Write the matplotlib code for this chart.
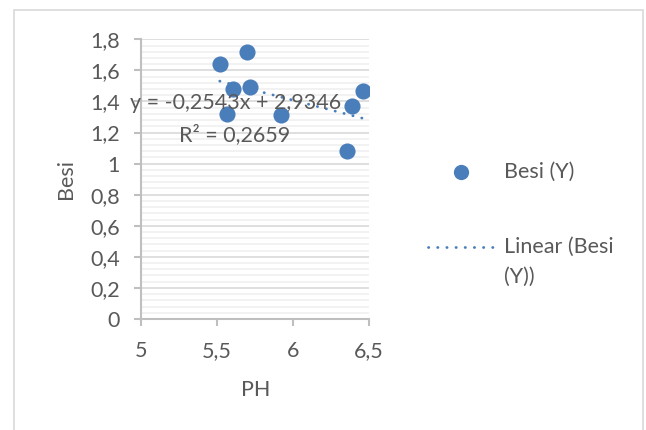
import matplotlib
matplotlib.use("Agg")
import matplotlib.pyplot as plt
import numpy as np
from matplotlib.lines import Line2D
from matplotlib.patches import Rectangle
from matplotlib.ticker import MultipleLocator, FuncFormatter

plt.rcParams['font.family'] = ['Lato', 'DejaVu Sans']

# data
ph = [5.52, 5.70, 5.61, 5.72, 5.57, 5.92, 6.36, 6.39, 6.46]
besi = [1.64, 1.72, 1.48, 1.49, 1.32, 1.31, 1.08, 1.37, 1.47]
slope, intercept = -0.2543, 2.9346
eq_text = "y = -0,2543x + 2,9346"
r2_text = "R² = 0,2659"
series_name = "Besi (Y)"
trend_name = "Linear (Besi\n(Y))"

blue = '#4a7ebb'
txt = '#595959'
fs = 15.5
dots = (0, (0.1, 3.2))
W, H = 646, 430

fig = plt.figure(figsize=(W / 100, H / 100), dpi=100)
ax = fig.add_axes([140.7 / W, 1 - 319 / H, 228 / W, 279.7 / H])

ax.scatter(ph, besi, s=135, color=blue, zorder=3, linewidths=0)
xs = np.array([min(ph), max(ph)])
ax.plot(xs, slope * xs + intercept, color=blue, lw=2,
        linestyle=dots, dash_capstyle='round', zorder=2)

ax.set_xlim(5, 6.5)
ax.set_ylim(0, 1.8)
ax.xaxis.set_major_locator(MultipleLocator(0.5))
ax.yaxis.set_major_locator(MultipleLocator(0.2))
ax.yaxis.set_minor_locator(MultipleLocator(0.04))
fmt = FuncFormatter(lambda v, p: ('%g' % round(v, 2)).replace('.', ','))
ax.xaxis.set_major_formatter(fmt)
ax.yaxis.set_major_formatter(fmt)

ax.grid(axis='y', which='major', color='#d9d9d9', lw=1.2)
ax.grid(axis='y', which='minor', color='#f0f0f0', lw=1.2)
ax.set_axisbelow(True)
for s in ['top', 'right']:
    ax.spines[s].set_visible(False)
for s in ['left', 'bottom']:
    ax.spines[s].set_color('#bfbfbf')
    ax.spines[s].set_linewidth(1.5)
ax.tick_params(which='major', length=5, width=1.5, color='#bfbfbf',
               labelsize=fs, labelcolor=txt)
ax.tick_params(axis='y', pad=10)
ax.tick_params(axis='x', pad=11)
ax.tick_params(which='minor', length=0)

fig.text(66 / W, 1 - 179 / H, "Besi", rotation=90, ha='center', va='center',
         fontsize=fs, color=txt)
fig.text(256 / W, 1 - 390 / H, "PH", ha='center', va='center',
         fontsize=fs, color=txt)

# trendline label
fig.text(130 / W, 1 - 103 / H, eq_text, ha='left', va='center',
         fontsize=fs, color=txt)
fig.text(179 / W, 1 - 135 / H, r2_text, ha='left', va='center',
         fontsize=fs, color=txt)

# legend
fig.add_artist(Line2D([461 / W], [1 - 172 / H], marker='o', markersize=11,
                      color=blue, markeredgewidth=0, transform=fig.transFigure))
fig.text(504 / W, 1 - 172 / H, series_name, ha='left', va='center',
         fontsize=fs, color=txt)
fig.add_artist(Line2D([428 / W, 496 / W], [1 - 247 / H, 1 - 247 / H],
                      color=blue, lw=2, linestyle=dots,
                      dash_capstyle='round', transform=fig.transFigure))
fig.text(504 / W, 1 - 247 / H, trend_name.split('\n')[0], ha='left',
         va='center', fontsize=fs, color=txt)
fig.text(504 / W, 1 - 277 / H, trend_name.split('\n')[1], ha='left',
         va='center', fontsize=fs, color=txt)

# chart border
fig.add_artist(Rectangle((14 / W, -0.05), 629 / W, 1.05 - 10 / H,
                         fill=False, edgecolor='#d9d9d9', lw=1.2,
                         transform=fig.transFigure))

fig.savefig("out.png", dpi=100)
